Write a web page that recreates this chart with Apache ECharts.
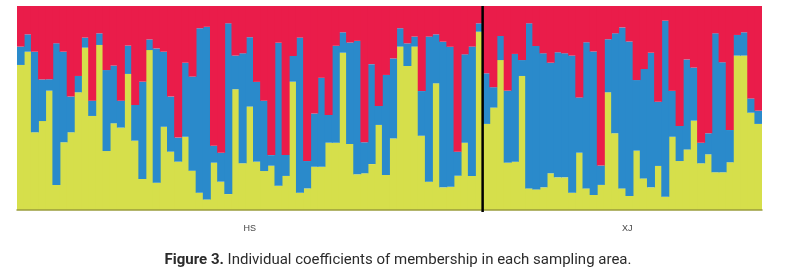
<!DOCTYPE html>
<html><head><meta charset="utf-8">
<script src="https://cdn.jsdelivr.net/npm/echarts@6/dist/echarts.min.js"></script>
<style>html,body{margin:0;padding:0;background:#fff}#c{width:798px;height:279px}</style>
</head><body><div id="c"></div>
<script>
const groups = ['HS', 'XJ'];
const hsYellow = [0.711,0.776,0.381,0.436,0.585,0.123,0.332,0.381,0.577,0.796,0.461,0.809,0.289,0.425,0.404,0.667,0.340,0.152,0.784,0.134,0.408,0.286,0.237,0.359,0.193,0.085,0.052,0.232,0.139,0.078,0.592,0.229,0.507,0.237,0.191,0.217,0.119,0.167,0.629,0.085,0.106,0.212,0.212,0.330,0.330,0.771,0.324,0.175,0.180,0.225,0.417,0.172,0.351,0.801,0.706,0.801,0.364,0.139,0.621,0.111,0.114,0.168,0.330,0.167,0.874];
const hsBlue = [0.090,0.085,0.395,0.204,0.056,0.694,0.444,0.175,0.080,0.049,0.075,0.057,0.397,0.283,0.132,0.139,0.175,0.477,0.052,0.658,0.368,0.270,0.118,0.363,0.461,0.806,0.846,0.083,0.142,0.837,0.165,0.539,0.340,0.391,0.345,0.052,0.701,0.103,0.126,0.760,0.134,0.261,0.436,0.136,0.475,0.100,0.497,0.654,0.152,0.490,0.093,0.490,0.392,0.090,0.111,0.049,0.219,0.711,0.240,0.714,0.686,0.118,0.433,0.634,0.041];
const hsRed = [0.199,0.139,0.224,0.360,0.359,0.183,0.224,0.444,0.343,0.155,0.464,0.134,0.314,0.292,0.464,0.194,0.485,0.371,0.164,0.208,0.224,0.444,0.645,0.278,0.346,0.109,0.102,0.685,0.719,0.085,0.243,0.232,0.153,0.372,0.464,0.731,0.180,0.730,0.245,0.155,0.760,0.527,0.352,0.534,0.195,0.129,0.179,0.171,0.668,0.285,0.490,0.338,0.257,0.109,0.183,0.150,0.417,0.150,0.139,0.175,0.200,0.714,0.237,0.199,0.085];
const xjYellow = [0.422,0.502,0.735,0.232,0.237,0.657,0.106,0.101,0.111,0.180,0.160,0.160,0.085,0.281,0.106,0.074,0.123,0.577,0.376,0.106,0.069,0.291,0.155,0.111,0.216,0.065,0.359,0.240,0.297,0.438,0.229,0.273,0.185,0.185,0.234,0.757,0.757,0.477,0.422];
const xjBlue = [0.248,0.100,0.118,0.353,0.528,0.078,0.809,0.703,0.657,0.542,0.613,0.608,0.672,0.271,0.716,0.703,0.095,0.260,0.490,0.789,0.757,0.346,0.536,0.660,0.315,0.863,0.225,0.172,0.441,0.260,0.101,0.103,0.681,0.539,0.158,0.101,0.114,0.070,0.065];
const xjRed = [0.330,0.398,0.147,0.415,0.235,0.265,0.085,0.196,0.232,0.278,0.227,0.232,0.243,0.448,0.178,0.223,0.782,0.163,0.134,0.105,0.174,0.363,0.309,0.229,0.469,0.072,0.416,0.588,0.262,0.302,0.670,0.624,0.134,0.276,0.608,0.142,0.129,0.453,0.513];
const caption = ['Figure 3.', ' Individual coefficients of membership in each sampling area.'];

const cats = hsYellow.map((_, i) => 'HS' + (i + 1)).concat(xjYellow.map((_, i) => 'XJ' + (i + 1)));
const yellow = hsYellow.concat(xjYellow);
const blue = hsBlue.concat(xjBlue);
const red = hsRed.concat(xjRed);

const chart = echarts.init(document.getElementById('c'), null, {renderer: 'canvas'});
const mk = (name, data, color) => ({
  name, type: 'bar', stack: 's', data, barWidth: 8,
  itemStyle: {color, borderWidth: 0}, emphasis: {disabled: true}, animation: false
});
chart.setOption({
  animation: false,
  grid: {left: 17, right: 36, top: 6, bottom: 69},
  xAxis: {type: 'category', data: cats, axisTick: {show: false}, axisLabel: {show: false},
          axisLine: {show: true, lineStyle: {color: '#9a9d3c', width: 1.5}}, z: 10},
  yAxis: {type: 'value', min: 0, max: 1, show: false},
  series: [mk('K1', yellow, '#d6df4b'), mk('K2', blue, '#2a8acb'), mk('K3', red, '#ea1c4a')]
});
const xa = chart.convertToPixel({xAxisIndex: 0}, cats[hsYellow.length - 1]);
const xb = chart.convertToPixel({xAxisIndex: 0}, cats[hsYellow.length]);
const xDiv = (xa + xb) / 2;
const yTop = chart.convertToPixel({yAxisIndex: 0}, 1);
const yBot = chart.convertToPixel({yAxisIndex: 0}, 0);
const hsC = (chart.convertToPixel({xAxisIndex: 0}, cats[0]) + xa) / 2;
const xjC = (xb + chart.convertToPixel({xAxisIndex: 0}, cats[cats.length - 1])) / 2;
chart.setOption({
  graphic: [
    {type: 'line', shape: {x1: xDiv, y1: yTop, x2: xDiv, y2: yBot + 2}, style: {stroke: '#000', lineWidth: 2.5}, z: 100},
    {type: 'text', x: hsC, y: 229, style: {text: groups[0], font: '9px "Liberation Sans", Arial', fill: '#444', align: 'center', verticalAlign: 'middle'}},
    {type: 'text', x: xjC + 5, y: 229, style: {text: groups[1], font: '9px "Liberation Sans", Arial', fill: '#444', align: 'center', verticalAlign: 'middle'}},
    {type: 'text', x: 398, y: 260, style: {
      text: '{b|' + caption[0] + '}{n|' + caption[1] + '}', align: 'center', verticalAlign: 'middle',
      rich: {b: {font: 'bold 15px Roboto', fill: '#2b2b2b'}, n: {font: '15px Roboto', fill: '#2b2b2b'}}
    }}
  ]
});
</script></body></html>
